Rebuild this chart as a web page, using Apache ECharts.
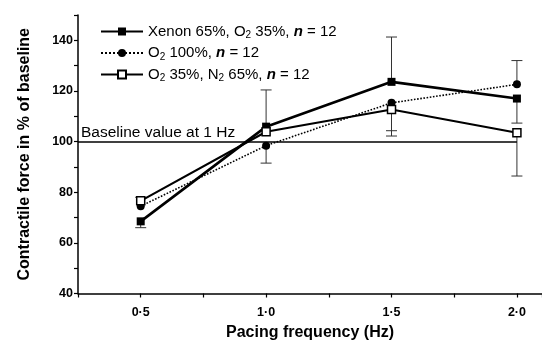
<!DOCTYPE html>
<html>
<head>
<meta charset="utf-8">
<script src="https://cdn.jsdelivr.net/npm/echarts@6/dist/echarts.min.js"></script>
<style>
html,body{margin:0;padding:0;background:#fff;}
#c{width:542px;height:341px;}
</style>
</head>
<body>
<div id="c"></div>
<script>
const frequencies = [0.5, 1.0, 1.5, 2.0];
const xenonValues = [68.5, 105.9, 123.6, 117.0];
const o2Values = [74.5, 98.4, 115.3, 122.6];
const n2Values = [76.6, 103.9, 112.7, 103.5];
// error bar end points (one-sided bars as drawn)
const xenonErrEnd = [66.0, 120.4, 141.3, 107.3];
const o2ErrEnd = [null, 91.5, 102.2, 132.0];
const n2ErrEnd = [78.0, null, 104.3, 86.4];
const baselineValue = 100;
const baselineLabel = 'Baseline value at 1 Hz';

const FONT = '"Liberation Sans", Arial, sans-serif';

function pts(vals){ return frequencies.map((f,i)=>[f, vals[i]]); }
function errs(vals, ends){
  const out = [];
  frequencies.forEach((f,i)=>{ if(ends[i]!=null) out.push([f, vals[i], ends[i]]); });
  return out;
}
const errData = [].concat(errs(xenonValues, xenonErrEnd), errs(o2Values, o2ErrEnd), errs(n2Values, n2ErrEnd));

const legendText = {
  xenon: 'Xenon 65%, O{sub|2} 35%, {it|n} = 12',
  o2: 'O{sub|2} 100%, {it|n} = 12',
  n2: 'O{sub|2} 35%, N{sub|2} 65%, {it|n} = 12'
};

const chart = echarts.init(document.getElementById('c'), null, {renderer:'canvas'});
chart.setOption({
  animation: false,
  backgroundColor: '#fff',
  grid: {left: 78, right: 0, top: 15, bottom: 47.5, containLabel: false, outerBoundsMode: 'none'},
  legend: {
    orient: 'vertical', left: 95, top: 19, itemGap: 5,
    itemWidth: 42, itemHeight: 10,
    data: ['xenon','o2','n2'],
    formatter: n => legendText[n],
    textStyle: {
      fontFamily: FONT, fontSize: 15, color: '#000',
      rich: {
        sub: {fontFamily: FONT, fontSize: 10, color:'#000', padding: [8,0,0,0]},
        it: {fontFamily: FONT, fontSize: 15, color:'#000', fontStyle: 'italic', fontWeight: 'bold'}
      }
    }
  },
  xAxis: {
    type: 'value', min: 0.25, max: 2.1, interval: 0.25,
    name: 'Pacing frequency (Hz)', nameLocation: 'middle', nameGap: 31,
    nameTextStyle: {fontFamily: FONT, fontSize: 16, fontWeight: 'bold', color: '#000'},
    axisLine: {show: true, onZero: false, lineStyle: {color: '#000', width: 1.5}},
    axisTick: {show: true, length: 4, lineStyle: {color: '#000', width: 1.2}},
    axisLabel: {
      fontFamily: FONT, fontSize: 12.5, fontWeight: 'bold', color: '#000', margin: 13,
      formatter: v => (Math.abs(v*2 - Math.round(v*2)) < 1e-6) ? v.toFixed(1).replace('.', '\u00B7') : ''
    },
    splitLine: {show: false}
  },
  yAxis: {
    type: 'value', min: 40, max: 150, interval: 10,
    name: 'Contractile force in % of baseline', nameLocation: 'middle', nameGap: 45,
    nameTextStyle: {fontFamily: FONT, fontSize: 16, fontWeight: 'bold', color: '#000'},
    axisLine: {show: true, lineStyle: {color: '#000', width: 1.5}},
    axisTick: {show: true, length: 4, lineStyle: {color: '#000', width: 1.2}},
    axisLabel: {
      fontFamily: FONT, fontSize: 12.5, fontWeight: 'bold', color: '#000', margin: 5,
      formatter: v => (v % 20 === 0) ? String(v) : ''
    },
    splitLine: {show: false}
  },
  series: [
    {
      type: 'custom', name: 'err', z: 1, silent: true,
      data: errData,
      encode: {x: 0, y: [1,2]},
      renderItem: (params, api) => {
        const x = api.value(0), a = api.value(1), b = api.value(2);
        const p0 = api.coord([x, a]), p1 = api.coord([x, b]);
        const st = {stroke: '#333', lineWidth: 1};
        return {type: 'group', children: [
          {type: 'line', shape: {x1: p0[0], y1: p0[1], x2: p1[0], y2: p1[1]}, style: st},
          {type: 'line', shape: {x1: p1[0]-5.5, y1: p1[1], x2: p1[0]+5.5, y2: p1[1]}, style: st}
        ]};
      }
    },
    {
      type: 'line', name: 'xenon', z: 4, data: pts(xenonValues),
      symbol: 'rect', symbolSize: 8,
      lineStyle: {color: '#000', width: 2.6, type: 'solid'},
      itemStyle: {color: '#000', borderColor: '#000', borderWidth: 0},
      markLine: {
        silent: true, symbol: ['none','none'],
        lineStyle: {color: '#000', width: 1.6, type: 'solid'},
        label: {
          show: true, position: 'insideStartTop', formatter: baselineLabel,
          fontFamily: FONT, fontSize: 15.5, color: '#000', distance: [3, 1]
        },
        data: [[{coord: [0.25, baselineValue]}, {coord: [frequencies[3], baselineValue]}]]
      }
    },
    {
      type: 'line', name: 'o2', z: 3, data: pts(o2Values),
      symbol: 'circle', symbolSize: 8,
      lineStyle: {color: '#000', width: 1.6, type: 'dotted'},
      itemStyle: {color: '#000', borderColor: '#000', borderWidth: 0}
    },
    {
      type: 'line', name: 'n2', z: 5, data: pts(n2Values),
      symbol: 'rect', symbolSize: 8,
      lineStyle: {color: '#000', width: 2.1, type: 'solid'},
      itemStyle: {color: '#fff', borderColor: '#000', borderWidth: 1.5}
    }
  ]
});
</script>
</body>
</html>
